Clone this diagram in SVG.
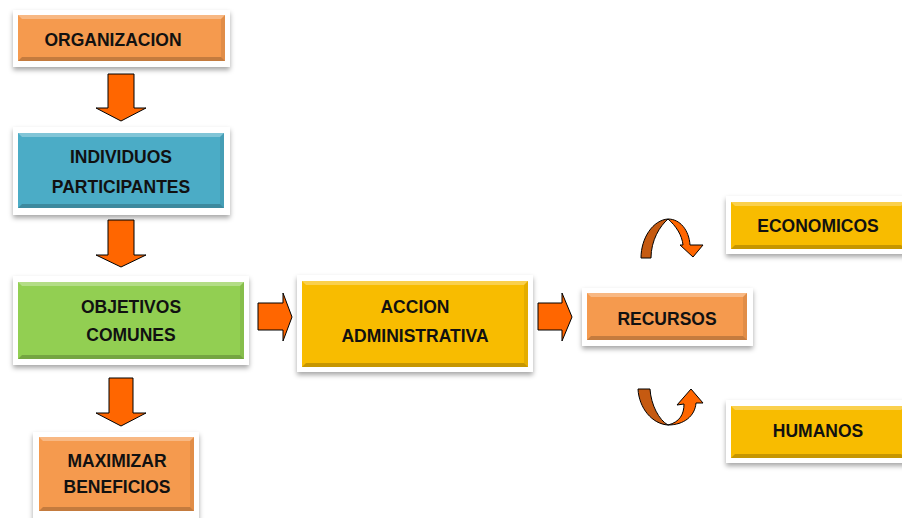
<svg xmlns="http://www.w3.org/2000/svg" width="902" height="518" viewBox="0 0 902 518">
  <defs>
    <filter id="shadow" x="-10%" y="-20%" width="120%" height="150%">
      <feDropShadow dx="0" dy="3" stdDeviation="2.5" flood-color="#000" flood-opacity="0.35"/>
    </filter>
  </defs>
  <style>
    .frame { fill: #fff; filter: url(#shadow); }
    .orange { fill: #F59A4E; }
    .teal { fill: #4BACC6; }
    .green { fill: #92CF52; }
    .yellow { fill: #F8BC00; }
    .hi { fill: #fff; fill-opacity: 0.3; }
    .lo { fill: #000; fill-opacity: 0.2; }
    .side { fill: #000; fill-opacity: 0.08; }
    .lbl { font-family: "Liberation Sans", Arial, sans-serif; font-weight: bold; font-size: 17.5px; fill: #111; text-anchor: middle; }
    .blk { fill: #FF6600; stroke: #000; stroke-width: 1; stroke-linejoin: miter; }
    .dark { fill: #C55A11; stroke: #000; stroke-width: 1; }
    .light { fill: #FF6600; stroke: #000; stroke-width: 1; }
  </style>

  <!-- block arrows and curved arrows -->
  <g id="connectors">
    <path class="blk" d="M108,74 H134 V108 H146 L121,121 L96,108 H108 Z"/>
    <path class="blk" d="M108,220 H134 V255 H146 L121,267 L96,255 H108 Z"/>
    <path class="blk" d="M109,378 H133 V413 H146 L121,426 L96,413 H109 Z"/>
    <path class="blk" d="M258,303 V330 H283 V341 L292,317 L283,293 V303 Z"/>
    <path class="blk" d="M538,303 V330 H562 V341 L572,317 L562,293 V303 Z"/>
    <!-- arc up-and-over toward ECONOMICOS -->
    <path class="dark" d="M641,258 C641,238 653,220 668,219 C660,226 651,240 651,258 Z"/>
    <path class="light" d="M668,219 C680,219 689,230 690,245 L703,245 L693,257 L680,245 L683,245 C682,235 676,226 668,219 Z"/>
    <!-- arc down-and-under toward HUMANOS -->
    <path class="dark" d="M638,389 L650,389 C651,405 659,420 668,425 C652,424 639,408 638,389 Z"/>
    <path class="light" d="M668,425 C680,422 684,414 684,404 L677,405 L691,389 L703,403 L696,403 C695,416 684,425 668,425 Z"/>
  </g>

  <g id="organizacion">
    <rect class="frame" x="13" y="10" width="217" height="57"/>
    <rect class="orange" x="18" y="15" width="207" height="46"/>
    <polygon class="hi" points="18,15 225,15 221,19 22,19"/>
    <polygon class="lo" points="18,61 225,61 221,57 22,57"/>
    <polygon class="side" points="225,15 225,61 221,57 221,19"/>
    <text class="lbl" x="113" y="46">ORGANIZACION</text>
  </g>

  <g id="individuos">
    <rect class="frame" x="13" y="127" width="217" height="88"/>
    <rect class="teal" x="18" y="133" width="206" height="75"/>
    <polygon class="hi" points="18,133 224,133 220,137 22,137"/>
    <polygon class="lo" points="18,208 224,208 220,204 22,204"/>
    <polygon class="side" points="224,133 224,208 220,204 220,137"/>
    <text class="lbl" x="121" y="163">INDIVIDUOS</text>
    <text class="lbl" x="121" y="193">PARTICIPANTES</text>
  </g>

  <g id="objetivos">
    <rect class="frame" x="13" y="276" width="236" height="89"/>
    <rect class="green" x="18" y="282" width="226" height="77"/>
    <polygon class="hi" points="18,282 244,282 240,286 22,286"/>
    <polygon class="lo" points="18,359 244,359 240,355 22,355"/>
    <polygon class="side" points="244,282 244,359 240,355 240,286"/>
    <text class="lbl" x="131" y="313">OBJETIVOS</text>
    <text class="lbl" x="131" y="341">COMUNES</text>
  </g>

  <g id="maximizar">
    <rect class="frame" x="33" y="432" width="166" height="92"/>
    <rect class="orange" x="39" y="437" width="155" height="74"/>
    <polygon class="hi" points="39,437 194,437 190,441 43,441"/>
    <polygon class="lo" points="39,511 194,511 190,507 43,507"/>
    <polygon class="side" points="194,437 194,511 190,507 190,441"/>
    <text class="lbl" x="117" y="467">MAXIMIZAR</text>
    <text class="lbl" x="117" y="493">BENEFICIOS</text>
  </g>

  <g id="accion">
    <rect class="frame" x="297" y="275" width="236" height="97"/>
    <rect class="yellow" x="302" y="281" width="226" height="86"/>
    <polygon class="hi" points="302,281 528,281 524,285 306,285"/>
    <polygon class="lo" points="302,367 528,367 524,363 306,363"/>
    <polygon class="side" points="528,281 528,367 524,363 524,285"/>
    <text class="lbl" x="415" y="313">ACCION</text>
    <text class="lbl" x="415" y="342">ADMINISTRATIVA</text>
  </g>

  <g id="recursos">
    <rect class="frame" x="582" y="288" width="171" height="58"/>
    <rect class="orange" x="587" y="293" width="160" height="47"/>
    <polygon class="hi" points="587,293 747,293 743,297 591,297"/>
    <polygon class="lo" points="587,340 747,340 743,336 591,336"/>
    <polygon class="side" points="747,293 747,340 743,336 743,297"/>
    <text class="lbl" x="667" y="325">RECURSOS</text>
  </g>

  <g id="economicos">
    <rect class="frame" x="726" y="196" width="184" height="58"/>
    <rect class="yellow" x="731" y="202" width="174" height="47"/>
    <polygon class="hi" points="731,202 905,202 901,206 735,206"/>
    <polygon class="lo" points="731,249 905,249 901,245 735,245"/>
    <text class="lbl" x="818" y="232">ECONOMICOS</text>
  </g>

  <g id="humanos">
    <rect class="frame" x="726" y="400" width="184" height="63"/>
    <rect class="yellow" x="731" y="406" width="174" height="52"/>
    <polygon class="hi" points="731,406 905,406 901,410 735,410"/>
    <polygon class="lo" points="731,458 905,458 901,454 735,454"/>
    <text class="lbl" x="818" y="437">HUMANOS</text>
  </g>
</svg>
